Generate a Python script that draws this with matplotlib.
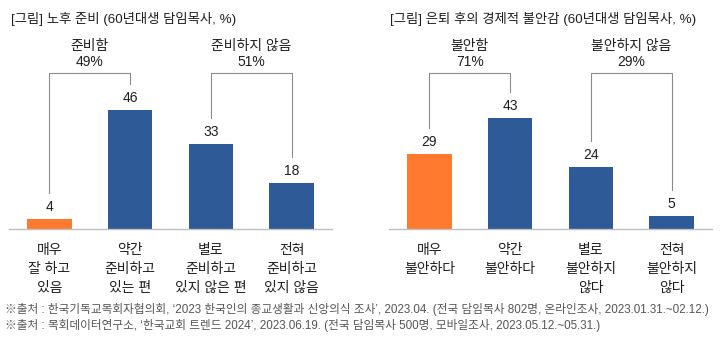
import matplotlib
matplotlib.use("Agg")
import matplotlib.pyplot as plt

plt.rcParams['font.family'] = ['Liberation Sans', 'Noto Sans CJK KR']

BLUE = '#2E5A97'
ORANGE = '#FF7A2E'
LINE = '#8C8C8C'
TEXT = '#1E1E1E'

left_title = '[그림] 노후 준비 (60년대생 담임목사, %)'
left_cats = ['매우\n잘 하고\n있음', '약간\n준비하고\n있는 편', '별로\n준비하고\n있지 않은 편', '전혀\n준비하고\n있지 않음']
left_vals = [4, 46, 33, 18]
left_groups = ['준비함', '준비하지 않음']
left_pcts = ['49%', '51%']

right_title = '[그림] 은퇴 후의 경제적 불안감 (60년대생 담임목사, %)'
right_cats = ['매우\n불안하다', '약간\n불안하다', '별로\n불안하지\n않다', '전혀\n불안하지\n않다']
right_vals = [29, 43, 24, 5]
right_groups = ['불안함', '불안하지 않음']
right_pcts = ['71%', '29%']

notes = [
    '※출처 : 한국기독교목회자협의회, ‘2023 한국인의 종교생활과 신앙의식 조사’, 2023.04. (전국 담임목사 802명, 온라인조사, 2023.01.31.~02.12.)',
    '※출처 : 목회데이터연구소, ‘한국교회 트렌드 2024’, 2023.06.19. (전국 담임목사 500명, 모바일조사, 2023.05.12.~05.31.)',
]

W, H = 724, 350
fig = plt.figure(figsize=(W / 100, H / 100), dpi=100)

YMAX = 77.1  # axes runs from px 229 (baseline) up to px 30


def px_axes(x0, x1, ytop=30, ybot=229):
    return fig.add_axes([x0 / W, 1 - ybot / H, (x1 - x0) / W, (ybot - ytop) / H])


def draw_panel(ax, vals, cats, groups, pcts):
    xs = range(len(vals))
    colors = [ORANGE] + [BLUE] * (len(vals) - 1)
    ax.bar(xs, vals, width=0.55, color=colors, zorder=2)
    ax.set_xlim(-0.5, 3.5)
    ax.set_ylim(0, YMAX)
    for s in ['top', 'left', 'right']:
        ax.spines[s].set_visible(False)
    ax.spines['bottom'].set_color('#BFBFBF')
    ax.spines['bottom'].set_linewidth(1)
    ax.set_xticks([])
    ax.set_yticks([])
    ax.patch.set_alpha(0)

    for x, v, c in zip(xs, vals, cats):
        ax.annotate(str(v), (x, v), xytext=(0, 8), textcoords='offset pixels',
                    ha='center', va='baseline', fontsize=10, color=TEXT)
        ax.annotate(c, (x, 0), xytext=(0, -14), textcoords='offset pixels',
                    ha='center', va='top', fontsize=10, color=TEXT,
                    linespacing=1.45, annotation_clip=False)

    top = 60.5
    for g, (name, pct) in enumerate(zip(groups, pcts)):
        a, b = 2 * g, 2 * g + 1
        ax.plot([a, a, b, b], [vals[a] + 10, top, top, vals[b] + 10],
                color=LINE, lw=0.8, zorder=1)
        ax.text((a + b) / 2, 69.4, name, ha='center', va='baseline', fontsize=10, color=TEXT)
        ax.text((a + b) / 2, 63.2, pct, ha='center', va='baseline', fontsize=10, color=TEXT)


ax1 = px_axes(9, 332)
draw_panel(ax1, left_vals, left_cats, left_groups, left_pcts)
ax2 = px_axes(389, 712)
draw_panel(ax2, right_vals, right_cats, right_groups, right_pcts)

fig.text(11 / W, 1 - 23 / H, left_title, ha='left', va='baseline', fontsize=9.6, color=TEXT)
fig.text(390 / W, 1 - 23 / H, right_title, ha='left', va='baseline', fontsize=9.6, color=TEXT)

for i, n in enumerate(notes):
    fig.text(5 / W, 1 - (313 + 16 * i) / H, n, ha='left', va='baseline', fontsize=8.4, color='#555555')

fig.savefig('out.png', dpi=100, facecolor='white')
